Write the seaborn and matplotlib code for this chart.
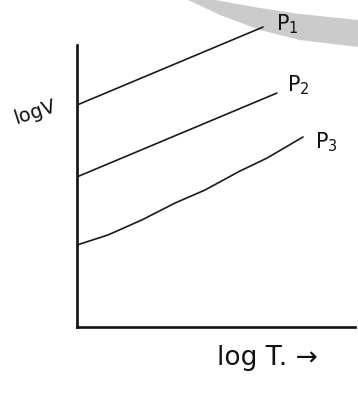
import matplotlib
matplotlib.use("Agg")
import matplotlib.pyplot as plt
from matplotlib.patches import Polygon
import seaborn as sns
import pandas as pd

# Isobars on a log V - log T diagram
pressures = ["P1", "P2", "P3"]
log_t_p1 = [0.0, 6.69]
log_v_p1 = [7.23, 9.77]
log_t_p2 = [0.0, 7.19]
log_v_p2 = [4.89, 7.62]
log_t_p3 = [0.0, 1.12, 2.34, 3.53, 4.60, 5.86, 6.83, 8.13]
log_v_p3 = [2.67, 3.00, 3.49, 4.04, 4.46, 5.08, 5.50, 6.19]
curve_labels = ["P$_1$", "P$_2$", "P$_3$"]

rows = []
for name, xs, ys in zip(pressures,
                        [log_t_p1, log_t_p2, log_t_p3],
                        [log_v_p1, log_v_p2, log_v_p3]):
    for x, y in zip(xs, ys):
        rows.append({"pressure": name, "logT": x, "logV": y})
df = pd.DataFrame(rows)

sns.set_style("white")
plt.rcParams["font.family"] = ["DejaVu Sans"]

fig = plt.figure(figsize=(3.58, 3.94), dpi=100)
fig.patch.set_facecolor("white")

# faint grey arc across the top edge
W, H = 358.0, 394.0
arc_px = [(215, 0), (260, 8), (300, 14), (358, 20),
          (358, 47), (300, 40), (260, 30), (220, 15), (188, 0)]
fig.patches.append(Polygon([(x / W, 1 - y / H) for x, y in arc_px],
                           closed=True, transform=fig.transFigure,
                           facecolor="#cbcbcb", edgecolor="none", zorder=0))

ax = fig.add_axes([77 / W, 1 - 327 / H, 278 / W, 307 / H])
ax.set_facecolor("none")
ax.set_zorder(2)

sns.lineplot(data=df, x="logT", y="logV", units="pressure", estimator=None,
             color="#1a1a1a", linewidth=1.2, sort=True, ax=ax, legend=False)

ax.set_xlim(0, 10)
ax.set_ylim(0, 10)
ax.set_xticks([])
ax.set_yticks([])
ax.set_xlabel("")
ax.set_ylabel("")
for side in ["top", "right"]:
    ax.spines[side].set_visible(False)
for side in ["left", "bottom"]:
    ax.spines[side].set_linewidth(1.9)
    ax.spines[side].set_color("#111111")
ax.spines["left"].set_bounds(0, 9.19)

label_pos = [(7.16, 9.87), (7.55, 7.88), (8.56, 6.03)]
for text, (x, y) in zip(curve_labels, label_pos):
    ax.text(x, y, text, ha="left", va="center", fontsize=15,
            color="#111111", clip_on=False)

fig.text(35 / W, 1 - 112 / H, "logV", ha="center", va="center",
         fontsize=14, rotation=18, color="#111111")
fig.text(267 / W, 1 - 358 / H, "log T. \u2192", ha="center", va="center",
         fontsize=19, color="#111111")

fig.savefig("out.png", dpi=100, facecolor="white")
